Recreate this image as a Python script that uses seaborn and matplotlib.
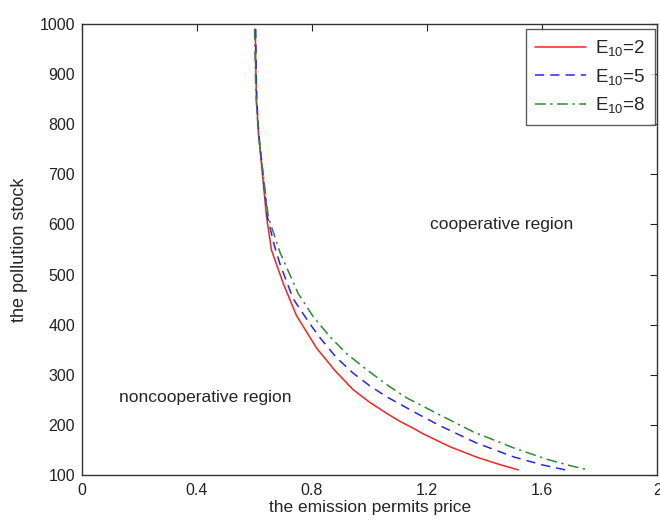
import pandas as pd
import matplotlib.pyplot as plt
import seaborn as sns

# Boundary curves (price, pollution stock)
price_e2 = [0.603, 0.605, 0.607, 0.614, 0.625, 0.642, 0.659, 0.700, 0.746, 0.816,
            0.880, 0.943, 1.000, 1.059, 1.105, 1.152, 1.186, 1.280, 1.374, 1.450, 1.517]
stock_e2 = [990, 900, 848, 780, 715, 615, 549, 482, 418, 353,
            308, 270, 245, 223, 207, 193, 182, 156, 135, 121, 110]

price_e5 = [0.604, 0.606, 0.608, 0.615, 0.627, 0.645, 0.668, 0.688, 0.734, 0.758,
            0.792, 0.830, 0.885, 0.943, 1.000, 1.059, 1.163, 1.245, 1.370, 1.500,
            1.600, 1.680]
stock_e5 = [990, 900, 848, 780, 715, 615, 560, 522, 452, 431,
            402, 372, 334, 303, 278, 256, 223, 198, 164, 136,
            120, 110]

price_e8 = [0.600, 0.603, 0.606, 0.614, 0.627, 0.648, 0.688, 0.752, 0.804, 0.862,
            0.920, 0.990, 1.060, 1.128, 1.267, 1.360, 1.500, 1.617, 1.700, 1.760]
stock_e8 = [990, 900, 848, 780, 715, 615, 545, 462, 416, 376,
            342, 310, 280, 254, 213, 186, 154, 131, 118, 110]

labels = ["$\\mathrm{E_{10}}$=2", "$\\mathrm{E_{10}}$=5", "$\\mathrm{E_{10}}$=8"]
x_ticks = [0, 0.4, 0.8, 1.2, 1.6, 2]
x_tick_labels = ["0", "0.4", "0.8", "1.2", "1.6", "2"]
y_ticks = [100, 200, 300, 400, 500, 600, 700, 800, 900, 1000]

sns.set_style("white")
plt.rcParams["font.family"] = ["Liberation Sans", "DejaVu Sans"]
plt.rcParams["mathtext.fontset"] = "custom"
plt.rcParams["mathtext.rm"] = "Liberation Sans"

fig = plt.figure(figsize=(6.6, 5.23), dpi=100)
ax = fig.add_axes([0.124, 0.092, 0.872, 0.862])

styles = [("#ff2020", "-"), ("#2525ff", (0, (6, 4))), ("#2e8b2e", (0, (7, 3, 1.5, 3)))]
series = [(price_e2, stock_e2), (price_e5, stock_e5), (price_e8, stock_e8)]
for (px, sy), lab, (col, ls) in zip(series, labels, styles):
    d = pd.DataFrame({"price": px, "stock": sy})
    sns.lineplot(data=d, x="price", y="stock", sort=False, color=col,
                 linestyle=ls, linewidth=1.1, label=lab, ax=ax)

ax.set_xlim(0, 2)
ax.set_ylim(100, 1000)
ax.set_xticks(x_ticks)
ax.set_xticklabels(x_tick_labels)
ax.set_yticks(y_ticks)
ax.tick_params(direction="in", top=True, right=True, length=5, width=0.8,
               labelsize=11.5, colors="#222222")
ax.tick_params(axis="x", pad=6)
ax.tick_params(axis="y", pad=5)
for s in ax.spines.values():
    s.set_color("#333333")
    s.set_linewidth(1.0)

ax.set_xlabel("the emission permits price", fontsize=12.5, labelpad=1)
ax.set_ylabel("the pollution stock", fontsize=13, labelpad=8)

ax.text(1.458, 600, "cooperative region", fontsize=12.5, ha="center", va="center")
ax.text(0.43, 255, "noncooperative region", fontsize=12.5, ha="center", va="center")

leg = ax.legend(loc="upper right", bbox_to_anchor=(0.996, 0.989), borderaxespad=0,
                fontsize=13.5, frameon=True, fancybox=False,
                handlelength=2.7, labelspacing=0.45,
                handletextpad=0.5, borderpad=0.5)
leg.get_frame().set_edgecolor("#333333")
leg.get_frame().set_linewidth(1.0)

fig.savefig("out.png", dpi=100)
